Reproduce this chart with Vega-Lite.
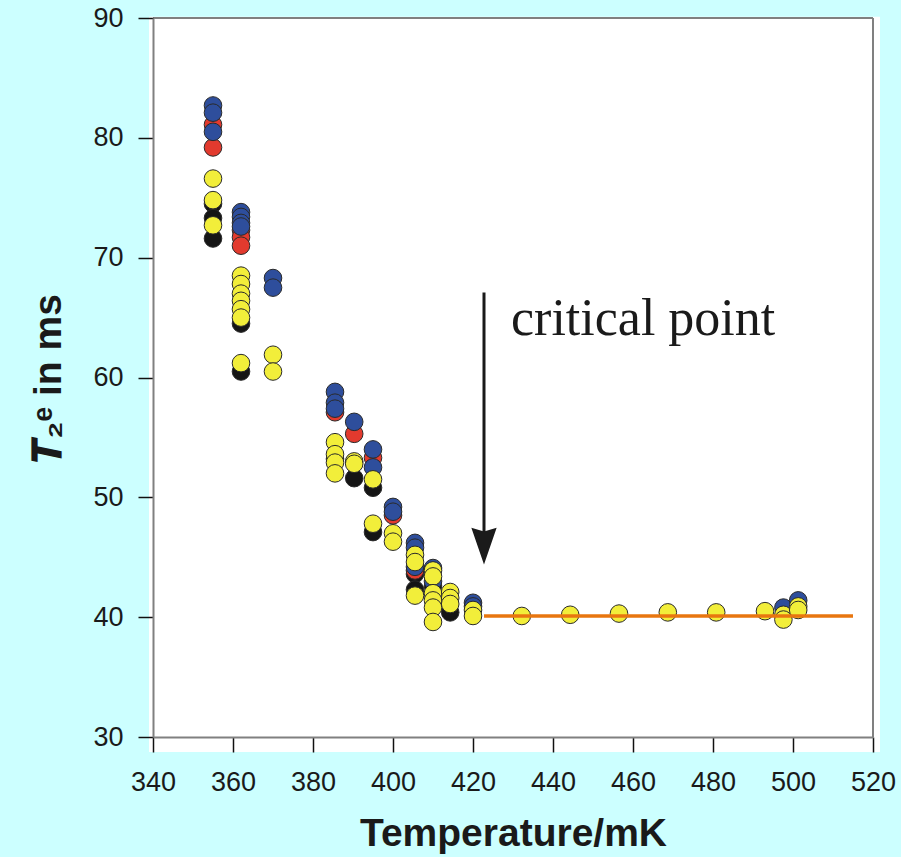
{
  "$schema": "https://vega.github.io/schema/vega-lite/v6.json",
  "width": 720,
  "height": 719,
  "autosize": {"type": "none"},
  "padding": {"left": 153, "top": 18, "right": 28, "bottom": 120},
  "background": "#CCFFFF",
  "config": {
    "view": {"stroke": null, "fill": null},
    "axis": {"grid": false, "labelFont": "Liberation Sans", "titleFont": "Liberation Sans", "labelColor": "#1a1a1a", "titleColor": "#1a1a1a"}
  },
  "datasets": {
    "pts": [
      {"T": 355, "v": 74.5, "s": "black"}, {"T": 355, "v": 73.3, "s": "black"}, {"T": 355, "v": 71.6, "s": "black"},
      {"T": 362, "v": 64.5, "s": "black"}, {"T": 362, "v": 60.5, "s": "black"},
      {"T": 385.5, "v": 53.2, "s": "black"}, {"T": 390.3, "v": 51.6, "s": "black"},
      {"T": 395, "v": 50.8, "s": "black"}, {"T": 395, "v": 47.1, "s": "black"},
      {"T": 405.5, "v": 43.6, "s": "black"}, {"T": 405.5, "v": 42.3, "s": "black"},
      {"T": 410, "v": 42.6, "s": "black"}, {"T": 414.3, "v": 40.4, "s": "black"},
      {"T": 355, "v": 81.1, "s": "red"}, {"T": 355, "v": 79.2, "s": "red"},
      {"T": 362, "v": 72.3, "s": "red"}, {"T": 362, "v": 71.7, "s": "red"}, {"T": 362, "v": 71.0, "s": "red"},
      {"T": 385.5, "v": 57.1, "s": "red"}, {"T": 390.3, "v": 55.3, "s": "red"}, {"T": 395, "v": 53.3, "s": "red"},
      {"T": 400, "v": 48.5, "s": "red"}, {"T": 405.5, "v": 43.9, "s": "red"},
      {"T": 355, "v": 82.7, "s": "blue"}, {"T": 355, "v": 82.1, "s": "blue"}, {"T": 355, "v": 80.5, "s": "blue"},
      {"T": 362, "v": 73.8, "s": "blue"}, {"T": 362, "v": 73.4, "s": "blue"}, {"T": 362, "v": 72.9, "s": "blue"}, {"T": 362, "v": 72.6, "s": "blue"},
      {"T": 370, "v": 68.3, "s": "blue"}, {"T": 370, "v": 67.5, "s": "blue"},
      {"T": 385.5, "v": 58.8, "s": "blue"}, {"T": 385.5, "v": 57.9, "s": "blue"}, {"T": 385.5, "v": 57.4, "s": "blue"},
      {"T": 390.3, "v": 56.3, "s": "blue"},
      {"T": 395, "v": 54.0, "s": "blue"}, {"T": 395, "v": 52.5, "s": "blue"},
      {"T": 400, "v": 49.2, "s": "blue"}, {"T": 400, "v": 48.8, "s": "blue"},
      {"T": 405.5, "v": 46.2, "s": "blue"}, {"T": 405.5, "v": 45.8, "s": "blue"}, {"T": 405.5, "v": 44.2, "s": "blue"},
      {"T": 410, "v": 44.1, "s": "blue"}, {"T": 410, "v": 43.0, "s": "blue"},
      {"T": 420, "v": 41.2, "s": "blue"}, {"T": 420, "v": 40.9, "s": "blue"},
      {"T": 497.6, "v": 40.8, "s": "blue"}, {"T": 501.3, "v": 41.4, "s": "blue"},
      {"T": 355, "v": 76.6, "s": "yellow"}, {"T": 355, "v": 74.8, "s": "yellow"}, {"T": 355, "v": 72.7, "s": "yellow"},
      {"T": 362, "v": 68.5, "s": "yellow"}, {"T": 362, "v": 67.8, "s": "yellow"}, {"T": 362, "v": 67.0, "s": "yellow"},
      {"T": 362, "v": 66.4, "s": "yellow"}, {"T": 362, "v": 65.7, "s": "yellow"}, {"T": 362, "v": 65.0, "s": "yellow"}, {"T": 362, "v": 61.2, "s": "yellow"},
      {"T": 370, "v": 61.9, "s": "yellow"}, {"T": 370, "v": 60.5, "s": "yellow"},
      {"T": 385.5, "v": 54.6, "s": "yellow"}, {"T": 385.5, "v": 53.6, "s": "yellow"}, {"T": 385.5, "v": 52.9, "s": "yellow"}, {"T": 385.5, "v": 52.0, "s": "yellow"},
      {"T": 390.3, "v": 53.0, "s": "yellow"}, {"T": 390.3, "v": 52.8, "s": "yellow"},
      {"T": 395, "v": 51.5, "s": "yellow"}, {"T": 395, "v": 47.8, "s": "yellow"},
      {"T": 400, "v": 47.0, "s": "yellow"}, {"T": 400, "v": 46.3, "s": "yellow"},
      {"T": 405.5, "v": 45.2, "s": "yellow"}, {"T": 405.5, "v": 44.6, "s": "yellow"}, {"T": 405.5, "v": 41.8, "s": "yellow"},
      {"T": 410, "v": 43.9, "s": "yellow"}, {"T": 410, "v": 43.4, "s": "yellow"}, {"T": 410, "v": 42.0, "s": "yellow"},
      {"T": 410, "v": 41.4, "s": "yellow"}, {"T": 410, "v": 40.8, "s": "yellow"}, {"T": 410, "v": 39.6, "s": "yellow"},
      {"T": 414.3, "v": 42.1, "s": "yellow"}, {"T": 414.3, "v": 41.6, "s": "yellow"}, {"T": 414.3, "v": 41.1, "s": "yellow"},
      {"T": 420, "v": 40.6, "s": "yellow"}, {"T": 420, "v": 40.1, "s": "yellow"},
      {"T": 432.2, "v": 40.1, "s": "yellow"}, {"T": 444.3, "v": 40.2, "s": "yellow"}, {"T": 456.5, "v": 40.3, "s": "yellow"},
      {"T": 468.7, "v": 40.4, "s": "yellow"}, {"T": 480.8, "v": 40.4, "s": "yellow"}, {"T": 493, "v": 40.5, "s": "yellow"},
      {"T": 497.6, "v": 40.2, "s": "yellow"}, {"T": 497.6, "v": 39.8, "s": "yellow"},
      {"T": 501.3, "v": 40.9, "s": "yellow"}, {"T": 501.3, "v": 40.6, "s": "yellow"}
    ],
    "fit": [{"T": 422.75, "v": 40.1}, {"T": 515, "v": 40.1}],
    "arrow": [{"T": 422.75, "v": 67.1, "v2": 45.5, "tip": 44.4, "label": "critical point", "lx": 429.5, "ly": 63.56}]
  },
  "layer": [
    {
      "data": {"values": [{"bg": 1}]},
      "mark": {"type": "rect", "fill": "white", "clip": false},
      "encoding": {
        "x": {"datum": 339, "type": "quantitative"},
        "x2": {"datum": 521.75},
        "y": {"datum": 28.75, "type": "quantitative"},
        "y2": {"datum": 90.1}
      }
    },
    {
      "data": {"values": [{"bg": 1}]},
      "mark": {"type": "rule", "color": "#808080", "strokeWidth": 2, "clip": false},
      "encoding": {
        "x": {"datum": 340, "type": "quantitative"},
        "x2": {"datum": 520},
        "y": {"datum": 90, "type": "quantitative"},
        "y2": {"datum": 90}
      }
    },
    {
      "data": {"values": [{"bg": 1}]},
      "mark": {"type": "rule", "color": "#808080", "strokeWidth": 2, "clip": false},
      "encoding": {
        "x": {"datum": 520, "type": "quantitative"},
        "y": {"datum": 30, "type": "quantitative"},
        "y2": {"datum": 90}
      }
    },
    {
      "data": {"name": "pts"},
      "mark": {"type": "point", "filled": true, "size": 310, "stroke": "#2a2a2a", "strokeWidth": 1, "opacity": 1},
      "encoding": {
        "x": {
          "field": "T", "type": "quantitative",
          "scale": {"domain": [340, 520], "nice": false, "zero": false},
          "axis": {
            "zindex": 3,
            "values": [340, 360, 380, 400, 420, 440, 460, 480, 500, 520],
            "title": "Temperature/mK", "titleFontSize": 39, "titleFontWeight": "bold", "titlePadding": 19,
            "labelFontSize": 27, "labelPadding": 17, "tickSize": 15, "tickColor": "#111", "tickWidth": 1.5,
            "domainColor": "#808080", "domainWidth": 2, "labelFlush": false
          }
        },
        "y": {
          "field": "v", "type": "quantitative",
          "scale": {"domain": [30, 90], "nice": false, "zero": false},
          "axis": {
            "zindex": 3,
            "values": [30, 40, 50, 60, 70, 80, 90],
            "title": "𝑻₂ᵉ in ms", "titleFontSize": 39, "titleFontWeight": "bold", "titlePadding": 24,
            "labelFontSize": 27, "labelPadding": 15, "tickSize": 15, "tickColor": "#111", "tickWidth": 1.5,
            "domainColor": "#808080", "domainWidth": 2, "labelFlush": false
          }
        },
        "color": {
          "field": "s", "type": "nominal",
          "scale": {"domain": ["black", "red", "blue", "yellow"], "range": ["#151515", "#E23A2E", "#2E4E9C", "#F2EE3A"]},
          "legend": null
        }
      }
    },
    {
      "data": {"name": "fit"},
      "mark": {"type": "line", "color": "#E8760F", "strokeWidth": 3.5},
      "encoding": {"x": {"field": "T", "type": "quantitative"}, "y": {"field": "v", "type": "quantitative"}}
    },
    {
      "data": {"name": "arrow"},
      "mark": {"type": "rule", "color": "#1a1a1a", "strokeWidth": 3},
      "encoding": {"x": {"field": "T", "type": "quantitative"}, "y": {"field": "v", "type": "quantitative"}, "y2": {"field": "v2"}}
    },
    {
      "data": {"name": "arrow"},
      "mark": {"type": "point", "filled": true, "color": "#1a1a1a", "opacity": 1, "size": 640, "shape": "M-1,-2.9L0,-2.6L1,-2.9L0,0Z"},
      "encoding": {"x": {"field": "T", "type": "quantitative"}, "y": {"field": "tip", "type": "quantitative"}}
    },
    {
      "data": {"name": "arrow"},
      "mark": {"type": "text", "font": "Liberation Serif", "fontSize": 52, "align": "left", "baseline": "alphabetic", "color": "#1a1a1a"},
      "encoding": {"x": {"field": "lx", "type": "quantitative"}, "y": {"field": "ly", "type": "quantitative"}, "text": {"field": "label"}}
    }
  ]
}
